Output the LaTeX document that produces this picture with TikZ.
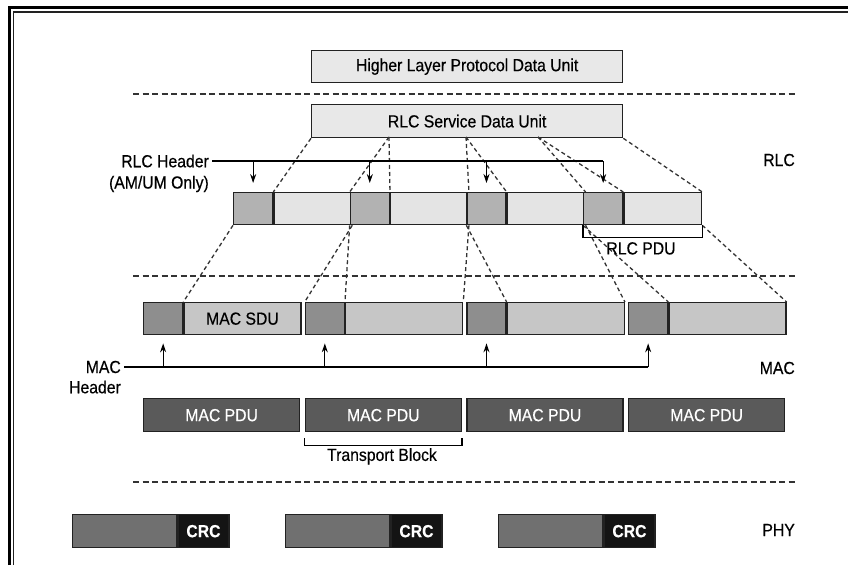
\documentclass[tikz,border=0pt]{standalone}
\usepackage{fontspec}
\setmainfont[FakeStretch=0.9,FakeBold=0.4]{Liberation Sans}
\usetikzlibrary{arrows.meta}

\definecolor{edgegray}{HTML}{222222}
\definecolor{unitfill}{HTML}{E8E8E8}
\definecolor{rlchfill}{HTML}{B2B2B2}
\definecolor{rlcdfill}{HTML}{E4E4E4}
\definecolor{machfill}{HTML}{8E8E8E}
\definecolor{macdfill}{HTML}{C6C6C6}
\definecolor{pdufill}{HTML}{5A5A5A}
\definecolor{tbfill}{HTML}{707070}
\definecolor{crcfill}{HTML}{141414}
\definecolor{sepgray}{HTML}{333333}

\begin{document}
\begin{tikzpicture}[x=1pt,y=-1pt,
    every node/.style={font=\fontsize{17.5}{20}\selectfont,inner sep=0pt},
    boxcell/.style={draw=edgegray,line width=1.3pt,anchor=north west,minimum height=32pt},
    unitbox/.style={boxcell,fill=unitfill,minimum width=311pt},
    rlchbox/.style={boxcell,fill=rlchfill,minimum width=39pt},
    rlcdbox/.style={boxcell,fill=rlcdfill,minimum width=77.67pt},
    machbox/.style={boxcell,fill=machfill,minimum width=39pt},
    macdbox/.style={boxcell,fill=macdfill,minimum width=117pt},
    pdubox/.style={boxcell,fill=pdufill,minimum width=156pt,minimum height=33pt,text=white},
    tbbox/.style={boxcell,fill=tbfill,minimum width=104pt,minimum height=33pt},
    crcbox/.style={boxcell,fill=crcfill,minimum width=51pt,minimum height=33pt,text=white,font=\fontsize{17.5}{20}\selectfont\bfseries},
    sepline/.style={sepgray,line width=1.3pt,dash pattern=on 6pt off 3.5pt},
    mapline/.style={sepgray,line width=1.3pt,dash pattern=on 4pt off 3pt},
    hdrline/.style={line width=1.1pt},
    hdrarrow/.style={line width=1.1pt,-{Stealth[length=9pt,width=6pt]}},
]
    \useasboundingbox (0,0) rectangle (848,565);
    \draw[line width=2.7pt] (9.3,565) |- (848,7.3);
    \draw[edgegray,line width=1.4pt] (13.6,565) |- (848,12);

    \foreach \y in {94,276,482}
        \draw[sepline] (133,\y) -- (795,\y);

    \node[unitbox] (hlpdu) at (311,50) {Higher Layer Protocol Data Unit};
    \node[unitbox,minimum height=33pt] (rlcsdu) at (311,104) {RLC Service Data Unit};
    \coordinate (cut1) at (389,137);
    \coordinate (cut2) at (466,137);
    \coordinate (cut3) at (538,137);

    \foreach \n[evaluate=\n as \x using 233+116.67*(\n-1)] in {1,...,4}{
        \node[rlchbox] (rh\n) at (\x,192) {};
        \node[rlcdbox] (rd\n) at (rh\n.north east) {};
    }
    \foreach \n[evaluate=\n as \x using 143+161.67*(\n-1)] in {1,...,4}{
        \node[machbox] (mh\n) at (\x,302) {};
        \node[macdbox] (md\n) at (mh\n.north east) {\ifnum\n=1 MAC SDU\fi};
        \node[pdubox] (pdu\n) at (\x,398) {MAC PDU};
    }
    \foreach \n[evaluate=\n as \x using 72+213*(\n-1)] in {1,2,3}{
        \node[tbbox] (tb\n) at (\x,514) {};
        \node[crcbox] (crc\n) at (tb\n.north east) {CRC};
    }

    \draw[mapline] (rlcsdu.south west) -- (rd1.north west);
    \draw[mapline] (cut1) -- (rh2.north west);
    \draw[mapline] (cut1) -- (rd2.north west);
    \draw[mapline] (cut2) -- (rd2.north east);
    \draw[mapline] (cut2) -- (rd3.north west);
    \draw[mapline] (cut3) -- (rd3.north east);
    \draw[mapline] (cut3) -- (rd4.north west);
    \draw[mapline] (rlcsdu.south east) -- (rd4.north east);

    \draw[mapline] (rh1.south west) -- (md1.north west);
    \draw[mapline] (rd1.south east) -- (mh2.north west);
    \draw[mapline] (rh2.south west) -- (md2.north west);
    \draw[mapline] (rd2.south east) -- (md2.north east);
    \draw[mapline] (rh3.south west) -- (md3.north west);
    \draw[mapline] (rd3.south east) -- (md3.north east);
    \draw[mapline] (rh4.south west) -- (md4.north west);
    \draw[mapline] (rd4.south east) -- (md4.north east);

    \node[anchor=east] (rlclbl) at (209,161) {RLC Header};
    \node[anchor=east] (rlcnote) at (209,184) {(AM/UM Only)};
    \draw[hdrline] ([xshift=3pt]rlclbl.east) -- (rlclbl.east -| rh4.north);
    \foreach \n in {1,...,4}
        \draw[hdrarrow] (rlclbl.east -| rh\n.north) -- ([yshift=9pt]rh\n.north);

    \node[anchor=east] (maclbl) at (121,367) {MAC};
    \node[anchor=east] (macnote) at (121,387) {Header};
    \draw[hdrline] ([xshift=3pt]maclbl.east) -- (maclbl.east -| mh4.south);
    \foreach \n in {1,...,4}
        \draw[hdrarrow] (maclbl.east -| mh\n.south) -- ([yshift=-8pt]mh\n.south);

    \draw[hdrline] (rh4.south west) -- ++(0,12) -| (rd4.south east);
    \node[anchor=north] (rlcpdu) at (641,242) {RLC PDU};
    \draw[hdrline] ([yshift=-6pt]pdu2.south west) -- ++(0,7) -| ([yshift=-6pt]pdu2.south east);
    \node[anchor=north] (tblock) at (382,448) {Transport Block};

    \node[anchor=east] (rlcside) at (795,160) {RLC};
    \node[anchor=east] (macside) at (795,368) {MAC};
    \node[anchor=east] (physide) at (795,530) {PHY};
\end{tikzpicture}
\end{document}
